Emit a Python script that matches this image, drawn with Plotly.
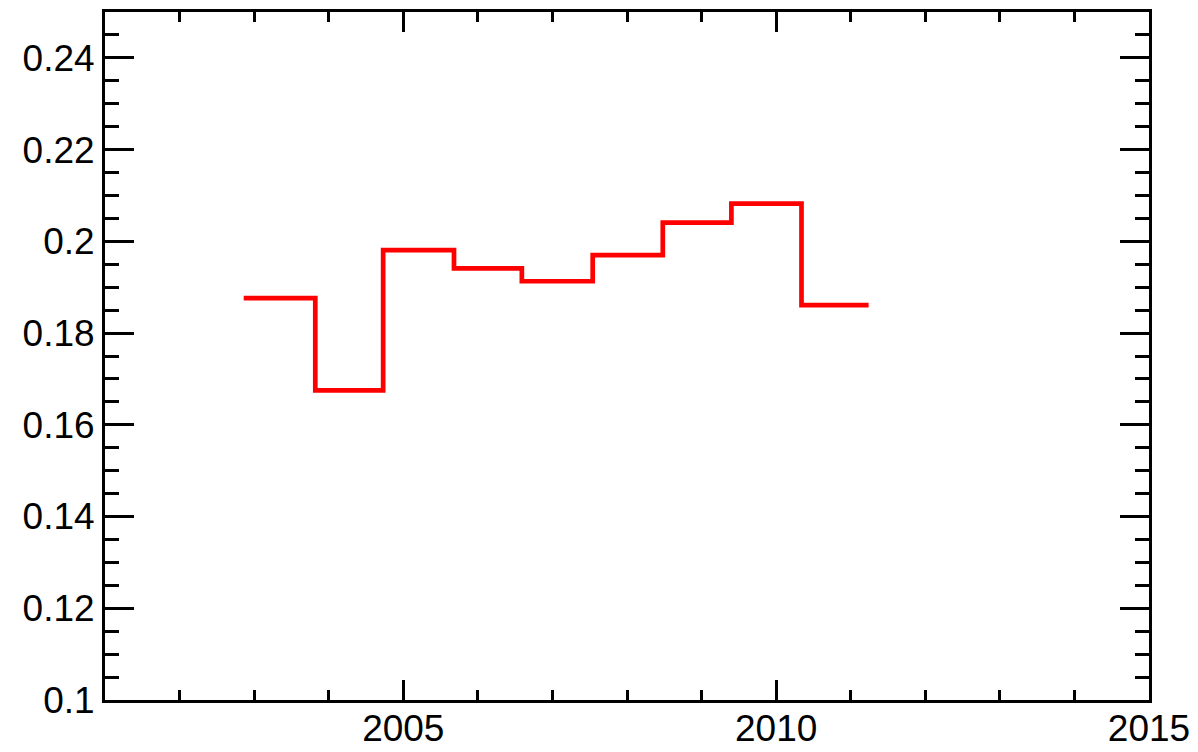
import plotly.graph_objects as go

# Bin edges (years) and the value of each bin
bin_edges = [2002.86, 2003.82, 2004.73, 2005.68, 2006.59, 2007.54,
             2008.48, 2009.40, 2010.34, 2011.24]
bin_values = [0.1876, 0.1675, 0.1981, 0.1941, 0.1913, 0.1970,
              0.2041, 0.2082, 0.1861]

x_ticks = [2005, 2010, 2015]
y_ticks = [0.1, 0.12, 0.14, 0.16, 0.18, 0.2, 0.22, 0.24]

# Step outline: each value held from its left edge to the next edge
step_x = bin_edges
step_y = bin_values + [bin_values[-1]]

fig = go.Figure()
fig.add_trace(go.Scatter(
    x=step_x, y=step_y, mode="lines", line_shape="hv",
    line=dict(color="#ff0000", width=4.7),
    showlegend=False, hoverinfo="skip",
))

font = dict(family="Liberation Sans, Arial, sans-serif", size=37, color="black")

fig.update_xaxes(
    range=[2001, 2015], tickmode="array", tickvals=x_ticks,
    ticktext=[str(v) for v in x_ticks],
    ticks="inside", ticklen=20, tickwidth=3, tickcolor="black",
    minor=dict(ticks="inside", dtick=1, tick0=2001, ticklen=10,
               tickwidth=3, tickcolor="black", showgrid=False),
    showline=True, linewidth=3, linecolor="black", mirror="ticks",
    showgrid=False, zeroline=False, tickfont=font, automargin=False,
    ticklabelstandoff=-6,
)
fig.update_yaxes(
    range=[0.1, 0.25], tickmode="array", tickvals=y_ticks,
    ticktext=[f"{v:g}" for v in y_ticks],
    ticks="inside", ticklen=29, tickwidth=3, tickcolor="black",
    minor=dict(ticks="inside", dtick=0.005, tick0=0.1, ticklen=14,
               tickwidth=3, tickcolor="black", showgrid=False),
    showline=True, linewidth=3, linecolor="black", mirror="ticks",
    showgrid=False, zeroline=False, tickfont=font, automargin=False,
)

fig.update_layout(
    width=1198, height=752,
    margin=dict(l=105, r=49, t=12, b=52, pad=0, autoexpand=False),
    paper_bgcolor="white", plot_bgcolor="white",
)

fig.write_html("out.html")
